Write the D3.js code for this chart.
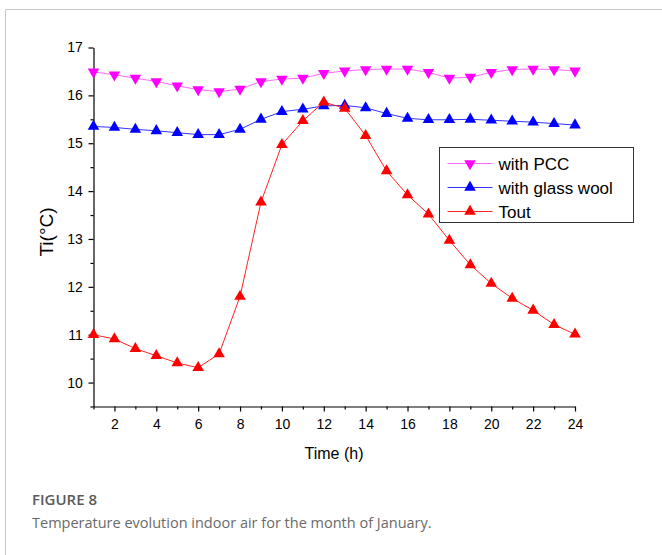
<!DOCTYPE html>
<html>
<head>
<meta charset="utf-8">
<script src="https://cdn.jsdelivr.net/npm/d3@7"></script>
<style>
  body { margin: 0; background: #fff; }
  svg text { font-family: "Liberation Sans", Arial, sans-serif; }
  .caption text { font-family: "Open Sans", "Noto Sans", sans-serif; }
</style>
</head>
<body>
<div id="container"></div>
<script>
const hours = d3.range(1, 25);
const withPCC = [16.49, 16.43, 16.36, 16.29, 16.2, 16.12, 16.08, 16.13, 16.29, 16.34, 16.36, 16.46,
                 16.51, 16.54, 16.55, 16.55, 16.48, 16.36, 16.38, 16.48, 16.54, 16.55, 16.54, 16.51];
const withGlassWool = [15.35, 15.33, 15.29, 15.26, 15.22, 15.18, 15.18, 15.29, 15.5, 15.66, 15.71, 15.78,
                       15.79, 15.74, 15.62, 15.52, 15.49, 15.49, 15.5, 15.48, 15.46, 15.44, 15.41, 15.38];
const tout = [11.0, 10.91, 10.71, 10.56, 10.41, 10.31, 10.6, 11.8, 13.77, 14.97, 15.47, 15.86,
              15.73, 15.16, 14.42, 13.92, 13.52, 12.97, 12.46, 12.07, 11.76, 11.51, 11.21, 11.01];
const xTicks = [2, 4, 6, 8, 10, 12, 14, 16, 18, 20, 22, 24];
const yTicks = [10, 11, 12, 13, 14, 15, 16, 17];

const series = [
    { name: "with PCC", values: withPCC, color: "#ff00ff", line: "#ff66ff", shape: "down" },
    { name: "with glass wool", values: withGlassWool, color: "#0000ff", line: "#3333ff", shape: "up" },
    { name: "Tout", values: tout, color: "#ff0000", line: "#ff2222", shape: "up" }
];

const W = 662, H = 555;
const svg = d3.select("#container").append("svg")
    .attr("width", W)
    .attr("height", H);

// card frame
svg.append("path")
    .attr("d", `M5.5,${H} V9.5 H${W}`)
    .attr("fill", "none")
    .attr("stroke", "#c8c8c8")
    .attr("stroke-width", 1);

const x = d3.scaleLinear().domain([1, 24]).range([93.5, 575]);
const y = d3.scaleLinear().domain([9.5, 17]).range([406.5, 47.5]);

// axes, major + minor ticks
const xAxis = svg.append("g")
    .attr("transform", "translate(0,406.5)")
    .call(d3.axisBottom(x).tickValues(xTicks).tickSize(5).tickSizeOuter(0).tickFormat(d3.format("d")));
svg.append("g")
    .attr("transform", "translate(0,406.5)")
    .call(d3.axisBottom(x).tickValues(d3.range(1, 24, 2)).tickSize(3).tickFormat("").tickSizeOuter(0))
    .select(".domain").remove();

const yAxis = svg.append("g")
    .attr("transform", "translate(93.5,0)")
    .call(d3.axisLeft(y).tickValues(yTicks).tickSize(5).tickSizeOuter(0).tickFormat(d3.format("d")));
svg.append("g")
    .attr("transform", "translate(93.5,0)")
    .call(d3.axisLeft(y).tickValues(d3.range(9.5, 17, 1)).tickSize(3).tickFormat("").tickSizeOuter(0))
    .select(".domain").remove();

svg.selectAll(".domain, .tick line").attr("stroke", "#000").attr("stroke-width", 1.2);
xAxis.selectAll("text").attr("font-size", 14).attr("fill", "#000").attr("dy", "1.05em");
yAxis.selectAll("text").attr("font-size", 14).attr("fill", "#000").attr("dx", "-0.2em");

svg.append("text")
    .attr("x", 334).attr("y", 459)
    .attr("text-anchor", "middle")
    .attr("font-size", 16)
    .text("Time (h)");

svg.append("text")
    .attr("transform", "translate(53,232) rotate(-90)")
    .attr("text-anchor", "middle")
    .attr("font-size", 19)
    .text("Ti(°C)");

const tri = d3.symbol().type(d3.symbolTriangle).size(58);
const line = d3.line().x((d, i) => x(hours[i])).y(d => y(d));

series.forEach(s => {
    svg.append("path")
        .datum(s.values)
        .attr("d", line)
        .attr("fill", "none")
        .attr("stroke", s.line)
        .attr("stroke-width", 1);
    svg.selectAll(null)
        .data(s.values)
        .enter().append("path")
        .attr("d", tri)
        .attr("transform", (d, i) => `translate(${x(hours[i])},${y(d)})` + (s.shape === "down" ? " rotate(180)" : ""))
        .attr("fill", s.color);
});

// legend
const legend = svg.append("g").attr("transform", "translate(439.5,147.5)");
legend.append("rect")
    .attr("width", 194).attr("height", 75)
    .attr("fill", "#fff").attr("stroke", "#333").attr("stroke-width", 1);
series.forEach((s, i) => {
    const row = legend.append("g").attr("transform", `translate(0,${16 + i * 24})`);
    row.append("line").attr("x1", 8).attr("x2", 53).attr("stroke", s.line).attr("stroke-width", 1);
    row.append("path").attr("d", tri)
        .attr("transform", `translate(30.5,0)` + (s.shape === "down" ? " rotate(180)" : ""))
        .attr("fill", s.color);
    row.append("text").attr("x", 59).attr("dy", "0.36em").attr("font-size", 17).text(s.name);
});

// caption
const cap = svg.append("g").attr("class", "caption");
cap.append("text")
    .attr("x", 32).attr("y", 505)
    .attr("font-size", 15).attr("font-weight", 600).attr("fill", "#5a5a5a")
    .text("FIGURE 8");
cap.append("text")
    .attr("x", 32).attr("y", 528)
    .attr("font-size", 14.5).attr("fill", "#6a6a6a")
    .text("Temperature evolution indoor air for the month of January.");
</script>
</body>
</html>
